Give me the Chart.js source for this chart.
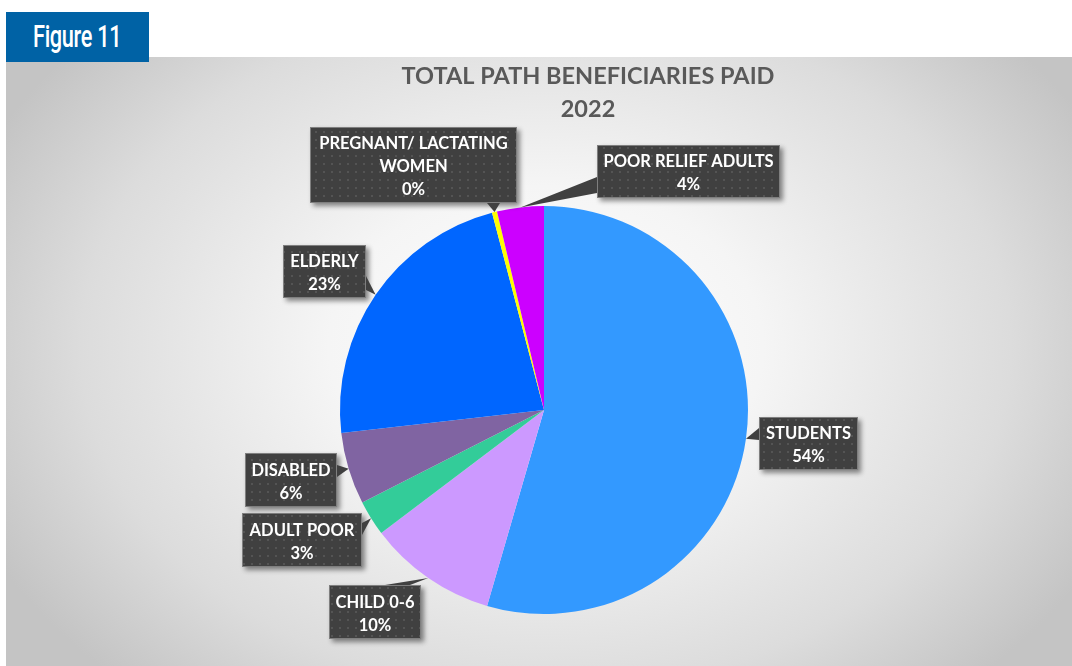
<!DOCTYPE html>
<html><head><meta charset="utf-8">
<script src="https://cdn.jsdelivr.net/npm/chart.js@4.4.0/dist/chart.umd.min.js"></script>
<style>
html,body{margin:0;padding:0;background:#fff;width:1072px;height:666px;overflow:hidden;}
#bg{position:absolute;left:6px;top:57px;width:1066px;height:609px;
 background:radial-gradient(ellipse 620px 460px at 540px 290px,#ffffff 0%,#f5f5f5 35%,#dcdcdc 75%,#c4c4c4 100%);}
#fig{position:absolute;left:6px;top:12px;width:143px;height:50px;background:#0062a5;overflow:hidden;}
#fig span{position:absolute;left:27px;top:4px;color:#fff;font-family:Roboto,sans-serif;font-weight:500;font-size:32px;line-height:40px;
 transform:scaleX(0.68);transform-origin:0 0;white-space:nowrap;letter-spacing:-0.5px;}
#wrap{position:absolute;left:0;top:0;width:1072px;height:666px;}
</style></head>
<body>
<div id="bg"></div>
<div id="fig"><span>Figure 11</span></div>
<div id="wrap"><canvas id="c" width="1072" height="666"></canvas></div>
<script>
const categories = ["STUDENTS","CHILD 0-6","ADULT POOR","DISABLED","ELDERLY","PREGNANT/ LACTATING WOMEN","POOR RELIEF ADULTS"];
const values = [54.5, 10.2, 2.8, 5.7, 22.7, 0.4, 3.7];
const pctLabels = ["54%","10%","3%","6%","23%","0%","4%"];
const colors = ["#3399ff","#cc99ff","#33cc99","#8064a2","#0066ff","#ffff00","#cc00ff"];
const titleLines = ["TOTAL PATH BENEFICIARIES PAID","2022"];

// callout layout (style/positions)
const callouts = [
 {box:[759,417,99,53], lines:["STUDENTS"], base:[[759,428],[759,440]]},
 {box:[329,585,92,54], lines:["CHILD 0-6"], base:[[385,585],[410,585]]},
 {box:[242,513,120,54], lines:["ADULT POOR"], base:[[362,523],[362,535]]},
 {box:[245,453,92,54], lines:["DISABLED"], base:[[337,465],[337,477]]},
 {box:[283,245,83,53], lines:["ELDERLY"], base:[[366,276],[366,290]]},
 {box:[310,127,207,76], lines:["PREGNANT/ LACTATING","WOMEN"], base:[[487,203],[500,203]]},
 {box:[597,145,183,53], lines:["POOR RELIEF ADULTS"], base:[[597,177],[597,193]]}
];

function makePattern(ctx){
  const p=document.createElement('canvas');p.width=8;p.height=8;
  const g=p.getContext('2d');
  g.fillStyle='#404040';g.fillRect(0,0,8,8);
  g.fillStyle='#545454';g.fillRect(3,3,2,2);
  return ctx.createPattern(p,'repeat');
}

const calloutPlugin = {
  id:'callouts',
  afterDatasetsDraw(chart){
    const ctx=chart.ctx;
    const meta=chart.getDatasetMeta(0);
    const pat=makePattern(ctx);
    ctx.save();
    ctx.fillStyle='#595959';
    ctx.font='bold 23.5px Lato, "Open Sans", sans-serif';
    ctx.textAlign='center';ctx.textBaseline='middle';
    ctx.fillText(titleLines[0],588,76);
    ctx.fillText(titleLines[1],588,109);
    ctx.restore();
    callouts.forEach((c,i)=>{
      const arc=meta.data[i];
      const mid=(arc.startAngle+arc.endAngle)/2;
      const tx=arc.x+Math.cos(mid)*arc.outerRadius;
      const ty=arc.y+Math.sin(mid)*arc.outerRadius;
      const [bx,by,bw,bh]=c.box;
      ctx.save();
      ctx.shadowColor='rgba(0,0,0,0.45)';
      ctx.shadowBlur=5;ctx.shadowOffsetX=3;ctx.shadowOffsetY=3;
      ctx.beginPath();
      ctx.rect(bx,by,bw,bh);
      ctx.fillStyle=pat;ctx.fill();
      ctx.restore();
      ctx.save();
      ctx.beginPath();
      ctx.moveTo(c.base[0][0],c.base[0][1]);
      ctx.lineTo(tx,ty);
      ctx.lineTo(c.base[1][0],c.base[1][1]);
      ctx.closePath();
      ctx.fillStyle='#404040';ctx.fill();
      ctx.strokeStyle='#7f7f7f';ctx.lineWidth=1;
      ctx.strokeRect(bx+0.5,by+0.5,bw-1,bh-1);
      ctx.fillStyle='#ffffff';
      ctx.font='bold 16.5px Lato, "Open Sans", sans-serif';
      ctx.textAlign='center';ctx.textBaseline='middle';
      const lines=c.lines.concat([pctLabels[i]]);
      const cx=bx+bw/2;
      const lh=23;
      const y0=by+bh/2-(lines.length-1)*lh/2+2;
      lines.forEach((t,k)=>ctx.fillText(t,cx,y0+k*lh));
      ctx.restore();
    });
  }
};

new Chart(document.getElementById('c'),{
  type:'pie',
  data:{labels:categories,datasets:[{data:values,backgroundColor:colors,borderWidth:0,hoverOffset:0}]},
  options:{
    responsive:false,animation:false,
    layout:{padding:{left:340,right:324,top:206,bottom:52}},
    plugins:{legend:{display:false},tooltip:{enabled:false},title:{display:false}}
  },
  plugins:[calloutPlugin]
});
</script>
</body></html>
